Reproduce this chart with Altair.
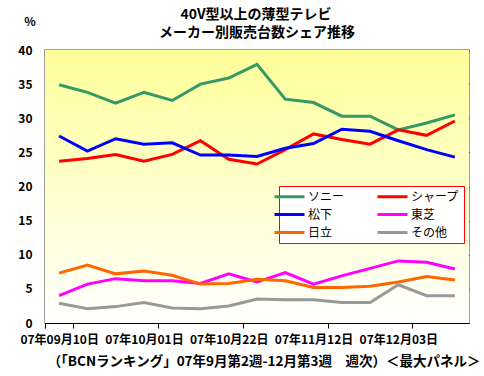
import altair as alt
import pandas as pd

weeks = ["07年09月10日", "07年09月17日", "07年09月24日", "07年10月01日", "07年10月08日",
         "07年10月15日", "07年10月22日", "07年10月29日", "07年11月05日", "07年11月12日",
         "07年11月19日", "07年11月26日", "07年12月03日", "07年12月10日", "07年12月17日"]
tick_labels = ["07年09月10日", "07年10月01日", "07年10月22日", "07年11月12日", "07年12月03日"]

makers = ["ソニー", "シャープ", "松下", "東芝", "日立", "その他"]
colors = ["#339966", "#FF0000", "#0000FF", "#FF00FF", "#FF6600", "#999999"]

sony = [34.9, 33.8, 32.2, 33.8, 32.6, 35.0, 35.9, 37.9, 32.8, 32.3, 30.3, 30.3, 28.3, 29.3, 30.5]
sharp = [23.7, 24.1, 24.7, 23.7, 24.7, 26.7, 24.0, 23.3, 25.4, 27.7, 26.9, 26.2, 28.3, 27.5, 29.6]
matsushita = [27.4, 25.2, 27.0, 26.2, 26.4, 24.6, 24.6, 24.4, 25.6, 26.3, 28.4, 28.1, 26.7, 25.4, 24.3]
toshiba = [4.0, 5.7, 6.5, 6.2, 6.2, 5.8, 7.2, 6.0, 7.4, 5.7, 6.9, 8.0, 9.1, 8.9, 7.9]
hitachi = [7.3, 8.5, 7.2, 7.6, 7.0, 5.7, 5.8, 6.4, 6.2, 5.2, 5.2, 5.4, 6.0, 6.8, 6.3]
others = [2.9, 2.1, 2.4, 3.0, 2.2, 2.1, 2.5, 3.5, 3.4, 3.4, 3.0, 3.0, 5.6, 4.0, 4.0]

title_lines = ["40V型以上の薄型テレビ", "メーカー別販売台数シェア推移"]
footnote = ["（「BCNランキング」07年9月第2週-12月第3週　週次）＜最大パネル＞"]

series = [sony, sharp, matsushita, toshiba, hitachi, others]
rows = []
for m, vals in zip(makers, series):
    for w, v in zip(weeks, vals):
        rows.append({"week": w, "maker": m, "share": v})
df = pd.DataFrame(rows)

W, H = 424, 273
FONT = "Noto Sans CJK JP"

bg = alt.Chart(pd.DataFrame({"a": [0]})).mark_rect(
    color=alt.Gradient(gradient="linear",
                       stops=[alt.GradientStop(color="#FFFF99", offset=0),
                              alt.GradientStop(color="#FFFFFF", offset=1)],
                       x1=0, x2=0, y1=0, y2=1)
).encode(x=alt.value(0), x2=alt.value(W), y=alt.value(0), y2=alt.value(H))

lines = alt.Chart(df).mark_line(strokeWidth=3).encode(
    x=alt.X("week:N", sort=weeks, scale=alt.Scale(domain=weeks),
            axis=alt.Axis(values=tick_labels, labelAngle=0, tickBand="extent",
                          labelFont=FONT, labelFontWeight="bold", labelFontSize=12,
                          labelColor="black", domainColor="black", tickColor="black",
                          tickSize=5, labelPadding=6, title=None)),
    y=alt.Y("share:Q", scale=alt.Scale(domain=[0, 40], nice=False),
            axis=alt.Axis(values=[0, 5, 10, 15, 20, 25, 30, 35, 40], grid=True,
                          gridColor="black", gridOpacity=1, ticks=False,
                          domainColor="black", labelFont=FONT, labelFontWeight="bold",
                          labelFontSize=12, labelColor="black", labelPadding=13,
                          title=None)),
    color=alt.Color("maker:N", scale=alt.Scale(domain=makers, range=colors),
                    legend=alt.Legend(title=None, orient="none", legendX=234, legendY=136,
                                      columns=2, direction="horizontal",
                                      columnPadding=15, rowPadding=5,
                                      symbolType="M-5.2,0M9.6,0M-3,0H3", symbolSize=100,
                                      symbolStrokeWidth=3, labelFont=FONT,
                                      labelFontSize=12, labelColor="black",
                                      labelOffset=12, padding=4,
                                      strokeColor="#FF0000", fillColor="white")),
    order=alt.value(0),
)

t1 = alt.Chart(pd.DataFrame({"t": [title_lines[0]]})).mark_text(
    font=FONT, fontSize=14, fontWeight="bold", color="black", align="center", baseline="middle"
).encode(text="t:N", x=alt.value(211), y=alt.value(-35))
t2 = alt.Chart(pd.DataFrame({"t": [title_lines[1]]})).mark_text(
    font=FONT, fontSize=14, fontWeight="bold", color="black", align="center", baseline="middle"
).encode(text="t:N", x=alt.value(212), y=alt.value(-17))
pct = alt.Chart(pd.DataFrame({"t": ["%"]})).mark_text(
    font=FONT, fontSize=12, fontWeight="bold", color="black", align="center", baseline="middle"
).encode(text="t:N", x=alt.value(-15), y=alt.value(-28))
foot = alt.Chart(pd.DataFrame({"t": footnote})).mark_text(
    font=FONT, fontSize=13.5, fontWeight="bold", color="black", align="center", baseline="middle"
).encode(text="t:N", x=alt.value(219), y=alt.value(H + 39))

chart = alt.layer(bg, lines, t1, t2, pct, foot).properties(
    width=W, height=H,
    autosize=alt.AutoSizeParams(type="none"),
    padding={"left": 45, "top": 50, "right": 15, "bottom": 53},
    background="white",
).configure_view(stroke="#808080", strokeWidth=1.5)

chart.save("out.html", embed_options={"renderer": "svg", "actions": False})
